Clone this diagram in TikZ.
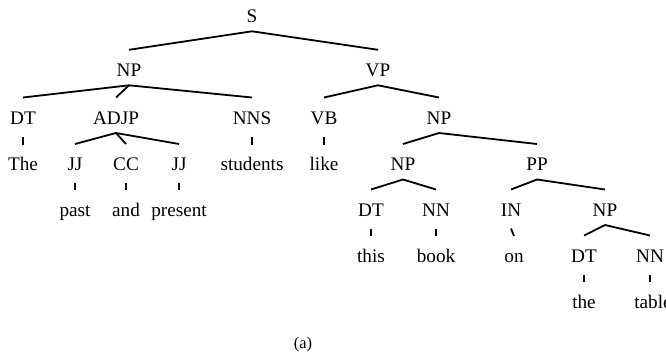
\documentclass[tikz,border=0pt]{standalone}
\usepackage{fontspec}
\setmainfont{Liberation Serif}
\usetikzlibrary{calc}
\newcommand\tbranch[2]{\draw[branch] ($(#1.base)+(0,9)$) -- ($(#2.base)+(0,-26.5)$);}
\newcommand\ttick[2]{\draw[branch] ($(#1.base)+(0,12.5)$) -- ($(#2.base)+(0,-26)$);}
\newcommand\tvtick[2]{\draw[branch] ($(#1.base)+(0,12.5)$) -- ($(#1.base |- #2.base)+(0,-26)$);}
\begin{document}
\begin{tikzpicture}[x=1pt,y=-1pt,
  lbl/.style={anchor=base,inner sep=0pt,font=\fontsize{19.2}{23}\selectfont},
  caplbl/.style={anchor=base,inner sep=0pt,font=\fontsize{16.5}{20}\selectfont},
  branch/.style={line width=1.8pt}]
\useasboundingbox (0,0) rectangle (666,356);
% row 0
\node[lbl] (S) at (252,22.3) {S};
% row 1
\node[lbl] (NPa) at (129,76.3) {NP};
\node[lbl] (VP) at (378,76.3) {VP};
% row 2
\node[lbl] (DTa) at (23,124) {DT};
\node[lbl] (ADJP) at (116,124) {ADJP};
\node[lbl] (NNS) at (252,124) {NNS};
\node[lbl] (VB) at (324,124) {VB};
\node[lbl] (NPb) at (439,124) {NP};
% row 3
\node[lbl] (The) at (23,170.5) {The};
\node[lbl] (JJa) at (75,170.5) {JJ};
\node[lbl] (CC) at (126,170.5) {CC};
\node[lbl] (JJb) at (179,170.5) {JJ};
\node[lbl] (students) at (252,170.5) {students};
\node[lbl] (like) at (324,170.5) {like};
\node[lbl] (NPc) at (403,170.5) {NP};
\node[lbl] (PP) at (537,170.5) {PP};
% row 4
\node[lbl] (past) at (75,216) {past};
\node[lbl] (and) at (126,216) {and};
\node[lbl] (present) at (179,216) {present};
\node[lbl] (DTb) at (371,216) {DT};
\node[lbl] (NNb) at (436,216) {NN};
\node[lbl] (IN) at (511,216) {IN};
\node[lbl] (NPd) at (605,216) {NP};
% row 5
\node[lbl] (this) at (371,262) {this};
\node[lbl] (book) at (436,262) {book};
\node[lbl] (on) at (514,262) {on};
\node[lbl] (DTc) at (584,262) {DT};
\node[lbl] (NNc) at (650,262) {NN};
% row 6
\node[lbl] (the) at (584,308) {the};
\node[lbl] (table) at (653,308) {table};
% caption
\node[caplbl] (cap) at (303,348.7) {(a)};
% branches
\tbranch{S}{NPa}
\tbranch{S}{VP}
\tbranch{NPa}{DTa}
\tbranch{NPa}{ADJP}
\tbranch{NPa}{NNS}
\tbranch{VP}{VB}
\tbranch{VP}{NPb}
\tbranch{ADJP}{JJa}
\tbranch{ADJP}{CC}
\tbranch{ADJP}{JJb}
\tbranch{NPb}{NPc}
\tbranch{NPb}{PP}
\tbranch{NPc}{DTb}
\tbranch{NPc}{NNb}
\tbranch{PP}{IN}
\tbranch{PP}{NPd}
\tbranch{NPd}{DTc}
\tbranch{NPd}{NNc}
% ticks
\ttick{DTa}{The}
\ttick{NNS}{students}
\ttick{VB}{like}
\ttick{JJa}{past}
\ttick{CC}{and}
\ttick{JJb}{present}
\ttick{DTb}{this}
\ttick{NNb}{book}
\ttick{IN}{on}
\ttick{DTc}{the}
\tvtick{NNc}{table}
\end{tikzpicture}
\end{document}
